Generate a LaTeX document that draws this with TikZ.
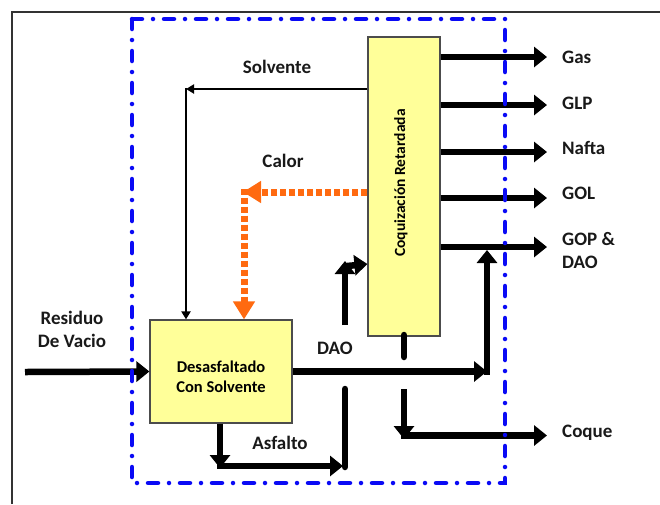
\documentclass[tikz,border=0pt]{standalone}
\usepackage{fontspec}
\setmainfont{Carlito}
\usetikzlibrary{arrows.meta}
\definecolor{boxyellow}{HTML}{FFFF99}
\definecolor{calororange}{HTML}{FF6A10}
\definecolor{zoneblue}{HTML}{0A0AF5}
\begin{document}
\begin{tikzpicture}[x=1pt,y=-1pt,
 box/.style={draw=black!70, line width=1.2pt, fill=boxyellow, inner sep=0pt},
 lbl/.style={font=\bfseries\fontsize{19}{23}\selectfont, inner sep=0pt, text=black!90},
 fat/.style={line width=6.5pt, -{Triangle[length=13pt,width=20pt]}},
 fatline/.style={line width=6.5pt, line cap=round},
 thinarrow/.style={line width=2.5pt, -{Triangle[length=8pt,width=9pt]}},
 calor/.style={line width=7pt, calororange, dash pattern=on 6pt off 3pt, -{Triangle[length=18pt,width=21pt]}},
 zone/.style={zoneblue, line width=4.5pt, line cap=round, dash pattern=on 10pt off 11pt on 0pt off 11pt}]

\useasboundingbox (0,0) rectangle (660,504);
\fill[white] (0,0) rectangle (660,504);
\draw[black!80, line width=2pt] (12,504) -- (12,12) -- (660,12);

% process boxes
\node[box, minimum width=72pt, minimum height=299pt] (cok) at (404,186.5) {};
\node[rotate=90, font=\bfseries\fontsize{15.5}{18}\selectfont, inner sep=0pt] (coktext) at (401,183) {Coquización Retardada};
\node[box, minimum width=142pt, minimum height=103pt] (des) at (221,371.5) {};
\node[font=\bfseries\fontsize{16.5}{20}\selectfont, align=center, inner sep=0pt] (destext) at (221,377) {Desasfaltado\\Con Solvente};

% labels
\node[lbl, anchor=west] (gas) at (562,57) {Gas};
\node[lbl, anchor=west] (glp) at (562,103) {GLP};
\node[lbl, anchor=west] (nafta) at (562,148) {Nafta};
\node[lbl, anchor=west] (gol) at (562,193) {GOL};
\node[lbl, anchor=west, align=left] (gop) at (562,250) {GOP \&\\DAO};
\node[lbl, anchor=west] (coque) at (562,433) {Coque};
\node[lbl] (solv) at (277,67) {Solvente};
\node[lbl] (calor) at (283,161) {Calor};
\node[lbl] (asf) at (280,443) {Asfalto};
\node[lbl] (dao) at (335,348) {DAO};
\node[lbl, align=center] (resid) at (72,329) {Residuo\\De Vacio};

% product arrows
\draw[fat] (cok.east |- 0,57) -- ([xshift=-15pt]gas.west |- 0,57);
\draw[fat] (cok.east |- 0,105) -- ([xshift=-15pt]glp.west |- 0,105);
\draw[fat] (cok.east |- 0,152) -- ([xshift=-15pt]nafta.west |- 0,152);
\draw[fat] (cok.east |- 0,198) -- ([xshift=-15pt]gol.west |- 0,198);
\draw[fat] (cok.east |- 0,247) -- ([xshift=-15pt]gop.west |- 0,247);

% solvente
\draw[thinarrow] (cok.west |- 0,89) -- (186,89);
\draw[thinarrow] (186,87.8) -- (des.north -| 186,0);

% calor
\draw[calor] (cok.west |- 0,192) -- (243,192);
\draw[calor] (244,188.5) -- (des.north -| 244,0);

% feed
\draw[fat] (25,372) -- (des.west);

% DAO
\draw[fat] (des.east) -- (487,371.5);
\draw[fat] (487,374.7) -- (487,250);

% asfalto to coker
\draw[fat] (des.south -| 220,0) -- (220,468);
\draw[fat] (216.8,466) -- (343,466);
\draw[fatline] (345,467) -- (345,389);
\draw[fat] (345,325) -- (345,261);
\draw[fat] (347,266) -- (cok.west |- 0,264);

% coque
\draw[fatline] (404,335) -- (404,357);
\draw[fat] (404,389) -- (404,439);
\draw[fat] (400.8,435.5) -- ([xshift=-15pt]coque.west |- 0,435.5);

% boundary
\draw[zone] (132,19) rectangle (505,483);
\end{tikzpicture}
\end{document}
